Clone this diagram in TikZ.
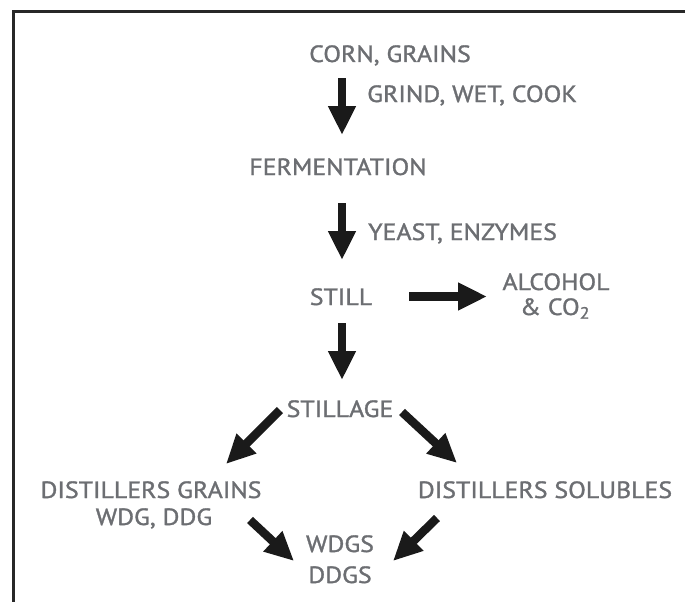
\documentclass[tikz,border=0pt]{standalone}
\usepackage{fontspec}
\setmainfont{PT Sans}[FakeStretch=1.1, FakeBold=1.3]
\usetikzlibrary{arrows.meta}
\definecolor{txt}{RGB}{108,110,114}
\definecolor{framec}{RGB}{40,40,40}
\definecolor{arr}{RGB}{26,26,26}
\tikzset{
  lbl/.style={text=txt, font=\fontsize{23.5}{26}\selectfont, inner sep=0pt, anchor=base},
  fat/.style={draw=arr, line width=8.5pt, -{Triangle[length=29pt,width=26pt]}}
}
\begin{document}
\begin{tikzpicture}[x=1pt,y=-1pt]
\useasboundingbox (0,0) rectangle (685,602);
\fill[white] (0,0) rectangle (685,602);
\draw[framec, line width=2.5pt] (13.5,602) -- (13.5,11.5) -- (685,11.5);

\node[lbl] (corn) at (390,62) {CORN, GRAINS};
\node[lbl, anchor=base west] (grind) at (367,102) {GRIND, WET, COOK};
\node[lbl] (ferm) at (338,175) {FERMENTATION};
\node[lbl, anchor=base west] (yeast) at (368,240) {YEAST, ENZYMES};
\node[lbl] (still) at (341,305) {STILL};
\node[lbl] (alcohol) at (556,290) {ALCOHOL};
\node[lbl] (co2) at (555,315) {\& CO\textsubscript{2}};
\node[lbl] (stillage) at (340,417) {STILLAGE};
\node[lbl] (dgrains) at (151,498) {DISTILLERS GRAINS};
\node[lbl] (wdg) at (154,525) {WDG, DDG};
\node[lbl] (dsol) at (545,498) {DISTILLERS SOLUBLES};
\node[lbl] (wdgs) at (340,552) {WDGS};
\node[lbl] (ddgs) at (340,583) {DDGS};

\coordinate (a1s) at (342,78);  \coordinate (a1e) at (342,135);
\coordinate (a2s) at (342,203); \coordinate (a2e) at (342,260);
\coordinate (a3s) at (342,323); \coordinate (a3e) at (342,380);
\coordinate (ars) at (409,296.5); \coordinate (are) at (487,296.5);
\coordinate (dls) at (280,410); \coordinate (dle) at (226,464);
\coordinate (drs) at (402,412); \coordinate (dre) at (457,463);
\coordinate (bls) at (250,520); \coordinate (ble) at (294,561);
\coordinate (brs) at (437,518); \coordinate (bre) at (393,561);

\draw[fat] (a1s) -- (a1e);
\draw[fat] (a2s) -- (a2e);
\draw[fat] (a3s) -- (a3e);
\draw[fat] (ars) -- (are);
\draw[fat] (dls) -- (dle);
\draw[fat] (drs) -- (dre);
\draw[fat] (bls) -- (ble);
\draw[fat] (brs) -- (bre);
\end{tikzpicture}
\end{document}
